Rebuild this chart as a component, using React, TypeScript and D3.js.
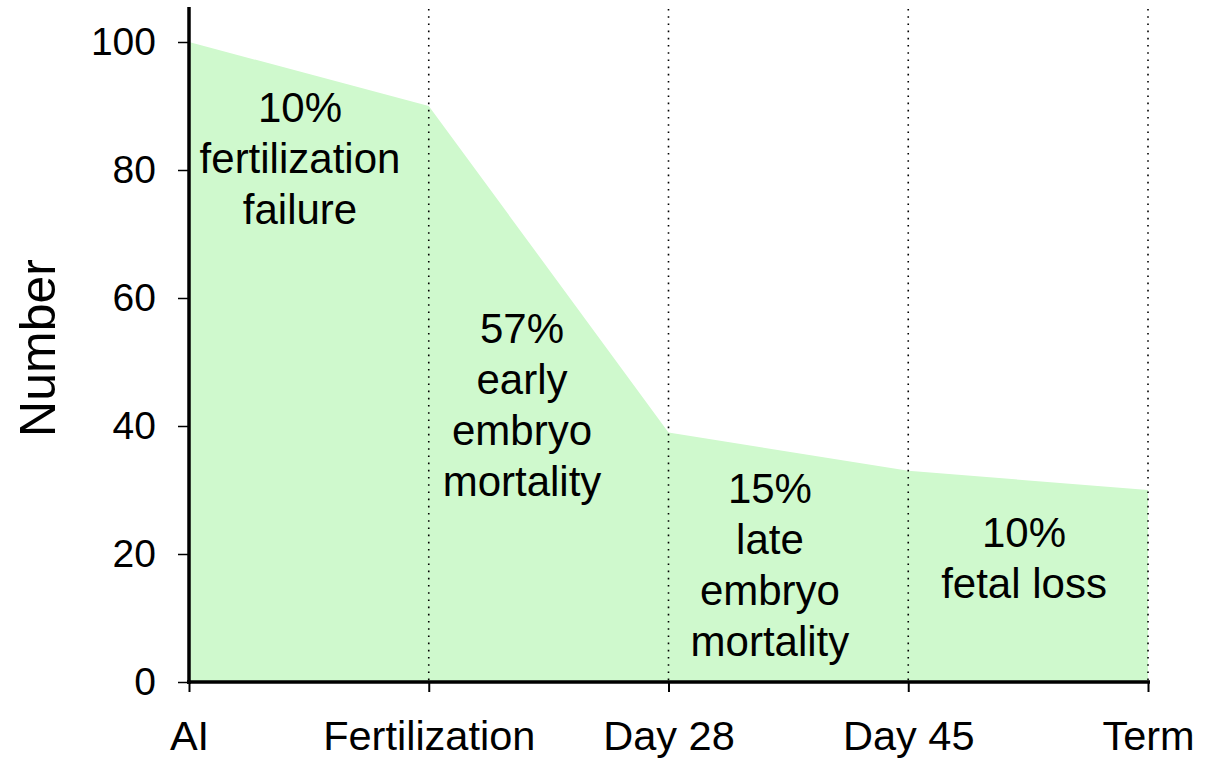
import React, { useRef, useEffect } from 'react';
import * as d3 from 'd3';

const stages = ['AI', 'Fertilization', 'Day 28', 'Day 45', 'Term'];
const remaining = [100, 90, 39, 33, 30];
const yTicks = [0, 20, 40, 60, 80, 100];

// annotation text blocks: stage interval, fraction across it, value of first baseline
const notes = [
  { from: 0, frac: 0.463, value: 87.5, lines: ['10%', 'fertilization', 'failure'] },
  { from: 1, frac: 0.389, value: 53, lines: ['57%', 'early', 'embryo', 'mortality'] },
  { from: 2, frac: 0.423, value: 28, lines: ['15%', 'late', 'embryo', 'mortality'] },
  { from: 3, frac: 0.483, value: 21.1, lines: ['10%', 'fetal loss'] },
];

const W = 1217;
const H = 759;
const FONT = '"Liberation Sans", Arial, sans-serif';

const App = () => {
  const svgRef = useRef<SVGSVGElement>(null);

  useEffect(() => {
    const svg = d3.select(svgRef.current);
    svg.selectAll('*').remove(); // clear previous content

    const x = d3.scalePoint<string>().domain(stages).range([189, 1148]);
    const y = d3.scaleLinear().domain([0, 100]).range([682, 42]);

    const data = stages.map((s, i) => ({ stage: s, value: remaining[i] }));

    // green area
    const area = d3.area<{ stage: string; value: number }>()
      .x(d => x(d.stage)!)
      .y0(y(0))
      .y1(d => y(d.value));

    svg.append('path')
      .datum(data)
      .attr('d', area)
      .attr('fill', '#cff9cd');

    // dotted stage markers
    svg.append('g')
      .selectAll('line')
      .data(stages.slice(1))
      .enter()
      .append('line')
      .attr('x1', d => x(d)!)
      .attr('x2', d => x(d)!)
      .attr('y1', 9)
      .attr('y2', y(0))
      .attr('stroke', '#000')
      .attr('stroke-width', 1.6)
      .attr('stroke-dasharray', '1.6,5.6');

    // annotations
    notes.forEach(n => {
      const x0 = x(stages[n.from])!;
      const x1 = x(stages[n.from + 1])!;
      const cx = x0 + (x1 - x0) * n.frac;
      const t = svg.append('text')
        .attr('x', cx)
        .attr('y', y(n.value))
        .attr('text-anchor', 'middle')
        .attr('font-family', FONT)
        .attr('font-size', 42)
        .attr('fill', '#000');
      n.lines.forEach((l, i) => {
        t.append('tspan')
          .attr('x', cx)
          .attr('dy', i === 0 ? 0 : 51)
          .text(l);
      });
    });

    // y axis
    const yAxis = svg.append('g')
      .attr('transform', 'translate(189,0)')
      .call(d3.axisLeft(y).tickValues(yTicks).tickSize(11).tickPadding(22));
    yAxis.select('.domain').remove();
    yAxis.selectAll('.tick line').attr('stroke-width', 1.5);
    yAxis.selectAll('.tick text')
      .attr('font-family', FONT)
      .attr('font-size', 39)
      .attr('fill', '#000');
    svg.append('line')
      .attr('x1', 189).attr('x2', 189)
      .attr('y1', 7).attr('y2', 684)
      .attr('stroke', '#000').attr('stroke-width', 3.5);

    // x axis
    const xAxis = svg.append('g')
      .attr('transform', 'translate(0,682)')
      .call(d3.axisBottom(x).tickSize(10));
    xAxis.select('.domain').remove();
    xAxis.selectAll('.tick line').attr('stroke-width', 2);
    xAxis.selectAll('.tick text')
      .attr('y', 68)
      .attr('dy', 0)
      .attr('font-family', FONT)
      .attr('font-size', 41.5)
      .attr('fill', '#000');
    svg.append('line')
      .attr('x1', 187).attr('x2', 1150)
      .attr('y1', 682).attr('y2', 682)
      .attr('stroke', '#000').attr('stroke-width', 3.5);

    // y label
    svg.append('text')
      .attr('transform', 'translate(55,348) rotate(-90)')
      .attr('text-anchor', 'middle')
      .attr('font-family', FONT)
      .attr('font-size', 50)
      .attr('fill', '#000')
      .text('Number');
  }, []);

  return (
    <svg
      ref={svgRef}
      width={W}
      height={H}
      style={{ position: 'absolute', left: 0, top: 0, background: '#fff' }}
    />
  );
};

export default App;
